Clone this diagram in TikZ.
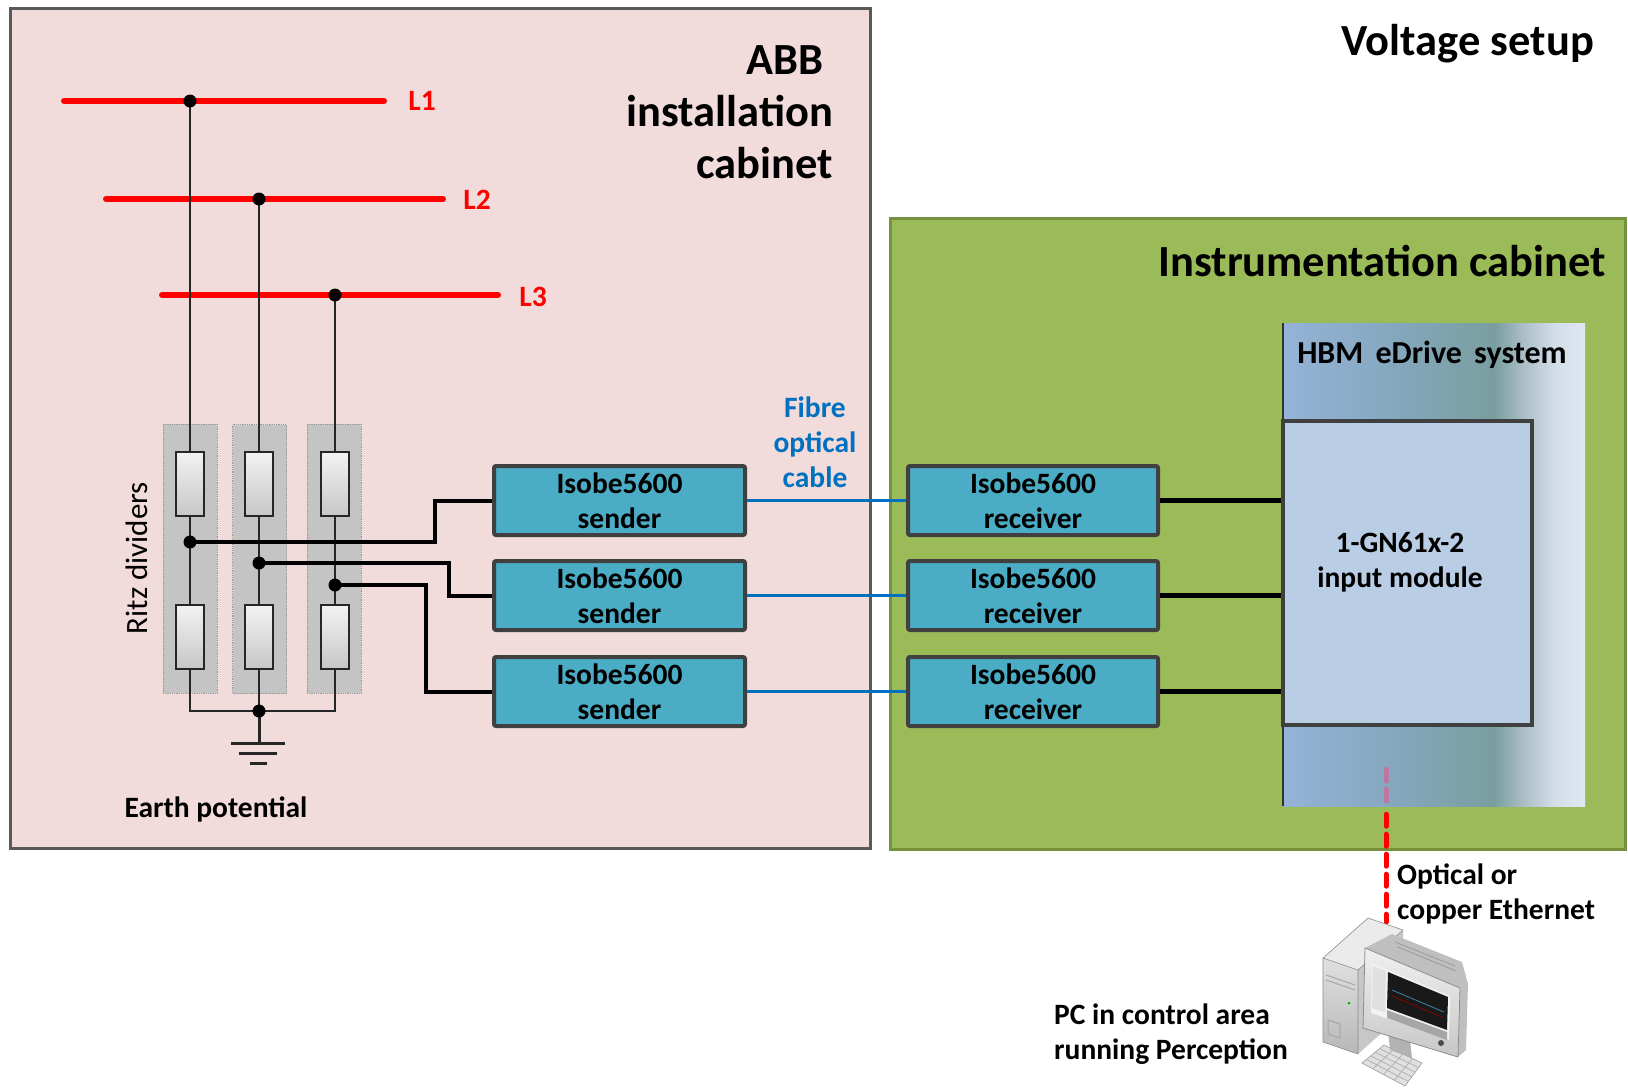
\documentclass[tikz,border=0pt]{standalone}
\usepackage{fontspec}
\setmainfont{Carlito}
\usetikzlibrary{calc}

\definecolor{abbfill}{RGB}{242,220,219}
\definecolor{abbline}{RGB}{89,89,89}
\definecolor{instfill}{RGB}{155,187,89}
\definecolor{instline}{RGB}{118,146,60}
\definecolor{isofill}{RGB}{75,172,198}
\definecolor{boxline}{RGB}{64,64,64}
\definecolor{modfill}{RGB}{185,205,229}
\definecolor{fibre}{RGB}{0,112,192}
\definecolor{busred}{RGB}{255,0,0}
\definecolor{divgray}{RGB}{196,196,196}
\definecolor{hbmA}{RGB}{149,179,215}
\definecolor{hbmB}{RGB}{134,168,192}
\definecolor{hbmC}{RGB}{122,158,159}
\definecolor{hbmD}{RGB}{172,192,200}
\definecolor{hbmE}{RGB}{212,222,233}
\definecolor{hbmF}{RGB}{222,231,242}
\definecolor{ethpink}{RGB}{186,120,160}

\pgfdeclarehorizontalshading{hbmshade}{100bp}{%
  color(0bp)=(hbmA); color(25bp)=(hbmA); color(42bp)=(hbmB);
  color(60bp)=(hbmC); color(65bp)=(hbmD); color(70bp)=(hbmE);
  color(75bp)=(hbmF); color(100bp)=(hbmF)}

\tikzset{
  txt/.style={font=\fontsize{29.5}{35}\selectfont\bfseries, align=center, inner sep=0pt},
  title/.style={font=\fontsize{44.5}{52}\selectfont\bfseries, inner sep=0pt},
  cabinet/.style={rectangle, line width=3pt},
  isobox/.style={rectangle, rounded corners=2pt, fill=isofill, draw=boxline,
    line width=4pt, minimum width=251pt, minimum height=69pt,
    font=\fontsize{29.5}{35}\selectfont\bfseries, align=center, inner sep=0pt},
  divider/.style={rectangle, fill=divgray, draw=gray!80, densely dotted, line width=0.8pt,
    minimum width=54pt, minimum height=269pt},
  resistor/.style={rectangle, top color=white!95!black, bottom color=black!22,
    draw=black!85, line width=1.6pt, minimum width=28pt, minimum height=64pt},
  bus/.style={draw=busred, line width=6pt, line cap=round},
  wire/.style={draw=black!85, line width=2pt},
  tap/.style={draw=black, line width=4pt},
  optic/.style={draw=fibre, line width=2.5pt},
  link/.style={draw=black, line width=4.5pt},
  junction/.style={circle, fill=black, inner sep=0pt, minimum size=13pt},
  eth/.style={line width=5pt, dash pattern=on 12pt off 8pt, line cap=round},
}

\begin{document}
\begin{tikzpicture}[x=1pt, y=-1pt]
\useasboundingbox (0,0) rectangle (1628,1088);

% cabinets
\node[cabinet, fill=abbfill, draw=abbline, minimum width=860pt, minimum height=840pt]
  (abb) at (440,428) {};
\node[cabinet, fill=instfill, draw=instline, minimum width=735pt, minimum height=631pt]
  (inst) at (1258,533.5) {};

\node[title, align=right, anchor=east] (abbtitle) at (833,112)
  {ABB\hspace*{9pt}\\installation\\cabinet};
\node[title, anchor=base east] (vtitle) at (1594,55) {Voltage setup};
\node[title, anchor=base east] (ititle) at (1606,276) {Instrumentation cabinet};

% HBM eDrive system
\node[rectangle, shading=hbmshade, minimum width=302pt, minimum height=483pt]
  (hbm) at (1434,564.5) {};
\draw[line width=2.5pt, draw=black!80] (hbm.north west) -- (hbm.south west);
\node[txt, font=\fontsize{32}{38}\selectfont\bfseries] (hbmlabel) at (1432,355)
  {HBM\hspace{5pt} eDrive\hspace{5pt} system};
\node[rectangle, fill=modfill, draw=boxline, line width=4pt,
  minimum width=249pt, minimum height=304pt] (mod) at (1407.5,573) {};
\node[txt] (modlabel) at (1400,562) {1-GN61x-2\\input module};

% bus bars
\coordinate (b1) at (190,101);
\coordinate (b2) at (259,199);
\coordinate (b3) at (335,295);
\draw[bus] (64,101) coordinate (l1a) -- (384,101) coordinate (l1b);
\draw[bus] (106,199) coordinate (l2a) -- (443,199) coordinate (l2b);
\draw[bus] (162,295) coordinate (l3a) -- (498,295) coordinate (l3b);
\node[txt, text=busred] (l1) at (422,101) {L1};
\node[txt, text=busred] (l2) at (477,200) {L2};
\node[txt, text=busred] (l3) at (533,297) {L3};

% Ritz dividers
\node[divider] (dv1) at (190,558.5) {};
\node[divider] (dv2) at (259.5,559) {};
\node[divider] (dv3) at (334,558.5) {};

\node[resistor] (r1a) at (190,484) {};
\node[resistor] (r1b) at (190,637) {};
\node[resistor] (r2a) at (259,484) {};
\node[resistor] (r2b) at (259,637) {};
\node[resistor] (r3a) at (335,484) {};
\node[resistor] (r3b) at (335,637) {};

\coordinate (t1) at (190,542);
\coordinate (t2) at (259,563);
\coordinate (t3) at (335,585);
\coordinate (gnd) at (259,711);

\draw[wire] (b1) -- (r1a.north) (r1a.south) -- (r1b.north) (r1b.south) |- (gnd);
\draw[wire] (b2) -- (r2a.north) (r2a.south) -- (r2b.north) (r2b.south) -- (gnd);
\draw[wire] (b3) -- (r3a.north) (r3a.south) -- (r3b.north) (r3b.south) |- (gnd);

% earth symbol
\draw[wire, line width=3pt] (gnd) -- ++(0,32) coordinate (gbar);
\draw[line width=3pt, draw=black!85] ($(gbar)+(-28,0)$) -- ($(gbar)+(26,0)$)
  ($(gbar)+(-20,10)$) -- ($(gbar)+(18,10)$)
  ($(gbar)+(-9,20)$) -- ($(gbar)+(8,20)$);

\node[txt, font=\fontsize{31}{35}\selectfont, rotate=90] (ritz) at (137,558) {Ritz dividers};
\node[txt] (earth) at (216,809) {Earth potential};

% senders and receivers
\node[isobox] (s1) at (619.5,500.5) {Isobe5600\\sender};
\node[isobox] (s2) at (619.5,595.5) {Isobe5600\\sender};
\node[isobox] (s3) at (619.5,691.5) {Isobe5600\\sender};
\node[isobox, minimum width=250pt] (rc1) at (1033,500.5) {Isobe5600\\receiver};
\node[isobox, minimum width=250pt] (rc2) at (1033,595.5) {Isobe5600\\receiver};
\node[isobox, minimum width=250pt] (rc3) at (1033,691.5) {Isobe5600\\receiver};

% divider taps to senders
\draw[tap] (t1) -- ++(245,0) |- (s1.west);
\draw[tap] (t2) -- ++(190,0) |- (s2.west);
\draw[tap] (t3) -- ++(91,0) |- (s3.west);

% junction dots
\foreach \p in {b1,b2,b3,t1,t2,t3,gnd} \node[junction] at (\p) {};

% fibre links
\draw[optic] (s1.east) -- (rc1.west);
\draw[optic] (s2.east) -- (rc2.west);
\draw[optic] (s3.east) -- (rc3.west);
\node[txt, text=fibre] (fibrelabel) at (815,442) {Fibre\\optical\\cable};

% receivers to input module
\draw[link] (rc1.east) -- (rc1.east -| mod.west);
\draw[link] (rc2.east) -- (rc2.east -| mod.west);
\draw[link] (rc3.east) -- (rc3.east -| mod.west);

% Ethernet to the PC
\coordinate (hbmport) at (1386,769);
\coordinate (pcport) at (1386,922);
\draw[eth, draw=ethpink] (hbmport) -- (hbmport |- hbm.south);
\draw[eth, draw=busred] ($(hbmport |- hbm.south)+(0,8)$) -- (pcport);
\node[txt, align=left, anchor=west] (ethlabel) at (1397,894) {Optical or\\copper Ethernet};
\node[txt, align=left, anchor=west] (pclabel) at (1054,1034) {PC in control area\\running Perception};

% PC: tower
\fill[black!22] (1358,970) -- (1403,930) -- (1403,1014) -- (1358,1054) -- cycle;
\fill[black!8] (1323,958) -- (1368,918) -- (1403,930) -- (1358,970) -- cycle;
\shade[top color=black!12, bottom color=black!28] (1323,958) -- (1358,970) -- (1358,1054) -- (1323,1042) -- cycle;
\draw[black!45, line width=0.6pt] (1323,958) -- (1368,918) -- (1403,930) -- (1358,970) -- cycle
  (1323,958) -- (1323,1042) -- (1358,1054) -- (1358,970);
\draw[black!35, line width=1pt] (1326,975) -- (1355,985) (1326,980) -- (1355,990)
  (1328,1020) -- (1340,1024) -- (1340,1038) -- (1328,1034) -- cycle;
\fill[green!70!black] (1349,1003) circle (1.5pt);
% PC: keyboard
\fill[black!12] (1362,1063) -- (1384,1045) -- (1422,1063) -- (1405,1086) -- cycle;
\draw[black!40, line width=0.6pt] (1362,1063) -- (1384,1045) -- (1422,1063) -- (1405,1086) -- cycle;
\foreach \k in {0.2,0.4,0.6,0.8}
  \draw[black!30, line width=0.8pt] ($(1362,1063)!\k!(1384,1045)$) -- ($(1405,1086)!\k!(1422,1063)$);
\foreach \k in {0.25,0.5,0.75}
  \draw[black!30, line width=0.8pt] ($(1362,1063)!\k!(1405,1086)$) -- ($(1384,1045)!\k!(1422,1063)$);
% PC: stand
\fill[black!30] (1388,1030) -- (1410,1040) -- (1412,1058) -- (1390,1050) -- cycle;
% PC: monitor
\fill[black!25] (1365,948) -- (1392,934) -- (1462,962) -- (1468,984) -- (1466,1050) -- (1458,1057) -- (1460,988) -- cycle;
\draw[black!40, line width=0.8pt] (1395,942) -- (1455,966) (1398,947) -- (1456,971);
\shade[top color=black!6, bottom color=black!22, draw=black!45, line width=0.8pt]
  (1365,948) -- (1460,988) -- (1458,1057) -- (1363,1028) -- cycle;
\fill[black!5] (1372,963) -- (1450,996) -- (1449,1040) -- (1371,1013) -- cycle;
\fill[black!12] (1373,966) -- (1386,971) -- (1385,1012) -- (1372,1008) -- cycle;
\fill[black!90] (1388,972) -- (1448,997) -- (1447,1030) -- (1387,1008) -- cycle;
\draw[cyan!60!black, line width=0.8pt] (1392,990) -- (1444,1012);
\draw[red!60!black, line width=0.6pt] (1392,996) -- (1444,1018);
\fill[black!35] (1387,1010) -- (1447,1032) -- (1447,1040) -- (1387,1018) -- cycle;
\fill[black!70] (1441,1043) circle (3pt);
\end{tikzpicture}
\end{document}
